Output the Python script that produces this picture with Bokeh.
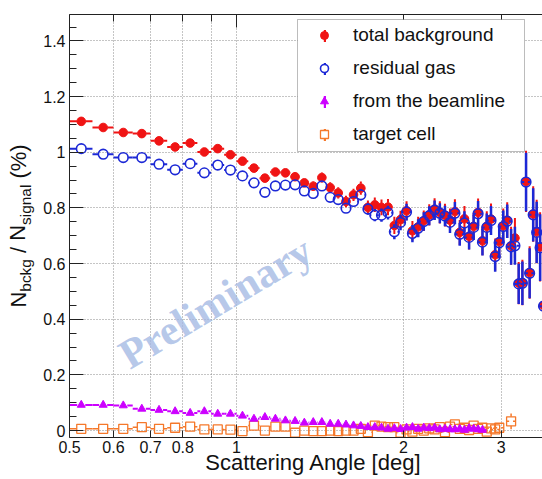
import numpy as np
from bokeh.plotting import figure
from bokeh.models import (Range1d, FixedTicker, SingleIntervalTicker, CustomJSTickFormatter,
                          LogAxis, LinearAxis, Label, BoxAnnotation, Legend, LegendItem)
from bokeh.embed import file_html
from bokeh.resources import INLINE

# ---------------- data ----------------
angle_bins = [0.525, 0.575, 0.625, 0.675, 0.725, 0.775, 0.825, 0.875, 0.925, 0.975,
              1.025, 1.075, 1.125, 1.175, 1.225, 1.275, 1.325, 1.375, 1.425, 1.475,
              1.525, 1.575, 1.625, 1.675, 1.725, 1.775, 1.825, 1.875, 1.925, 1.975,
              2.025, 2.075, 2.125, 2.175, 2.225, 2.275, 2.325, 2.375, 2.425, 2.475,
              2.525, 2.575, 2.625, 2.675, 2.725, 2.775, 2.825, 2.875, 2.925, 2.975,
              3.025, 3.075, 3.125, 3.175, 3.225, 3.275, 3.325, 3.375, 3.425, 3.475,
              3.525, 3.575]
bin_half_width = 0.025

total_background = [1.111, 1.089, 1.071, 1.067, 1.041, 1.019, 1.033, 1.001, 1.013, 0.991,
                    0.968, 0.943, 0.907, 0.929, 0.926, 0.912, 0.890, 0.878, 0.909, 0.873,
                    0.854, 0.823, 0.847, 0.871, 0.802, 0.811, 0.802, 0.803, 0.737, 0.758,
                    0.790, 0.718, 0.732, 0.754, 0.775, 0.796, 0.784, 0.774, 0.756, 0.787,
                    0.712, 0.761, 0.698, 0.734, 0.784, 0.682, 0.734, 0.760, 0.632, 0.679,
                    0.736, 0.756, 0.664, 0.692, 0.530, 0.532, 0.895, 0.568, 0.778, 0.715,
                    0.660, 0.450]
total_err = [0.010, 0.010, 0.010, 0.010, 0.011, 0.011, 0.011, 0.011, 0.012, 0.012,
             0.013, 0.013, 0.014, 0.014, 0.015, 0.015, 0.016, 0.017, 0.018, 0.019,
             0.020, 0.021, 0.022, 0.024, 0.025, 0.026, 0.028, 0.029, 0.031, 0.032,
             0.034, 0.035, 0.036, 0.037, 0.038, 0.039, 0.040, 0.041, 0.042, 0.044,
             0.045, 0.046, 0.047, 0.049, 0.050, 0.052, 0.054, 0.056, 0.058, 0.060,
             0.062, 0.064, 0.068, 0.072, 0.076, 0.082, 0.110, 0.094, 0.100, 0.114,
             0.124, 0.134]

residual_gas = [1.013, 0.993, 0.981, 0.981, 0.957, 0.937, 0.959, 0.926, 0.954, 0.936,
                0.915, 0.890, 0.856, 0.879, 0.882, 0.883, 0.861, 0.852, 0.879, 0.838,
                0.830, 0.799, 0.823, 0.847, 0.796, 0.774, 0.774, 0.783, 0.714, 0.748,
                0.785, 0.708, 0.727, 0.751, 0.772, 0.792, 0.781, 0.771, 0.748, 0.781,
                0.705, 0.746, 0.694, 0.730, 0.779, 0.677, 0.730, 0.755, 0.625, 0.675,
                0.733, 0.752, 0.660, 0.664, 0.527, 0.529, 0.893, 0.565, 0.775, 0.712,
                0.657, 0.447]
residual_err = [0.006, 0.006, 0.006, 0.006, 0.007, 0.007, 0.007, 0.007, 0.008, 0.008,
                0.009, 0.009, 0.010, 0.010, 0.011, 0.011, 0.012, 0.013, 0.014, 0.015,
                0.016, 0.017, 0.018, 0.020, 0.021, 0.022, 0.024, 0.025, 0.027, 0.028,
                0.030, 0.031, 0.032, 0.033, 0.034, 0.035, 0.036, 0.037, 0.038, 0.040,
                0.041, 0.042, 0.043, 0.045, 0.046, 0.048, 0.050, 0.052, 0.054, 0.056,
                0.058, 0.060, 0.064, 0.068, 0.072, 0.078, 0.105, 0.090, 0.096, 0.110,
                0.120, 0.130]

beamline_bins = [0.525, 0.575, 0.625, 0.675, 0.725, 0.775, 0.825, 0.875, 0.925, 0.975,
                 1.025, 1.075, 1.125, 1.175, 1.225, 1.275, 1.325, 1.375, 1.425, 1.475,
                 1.525, 1.575, 1.625, 1.675, 1.725, 1.775, 1.825, 1.875, 1.925, 1.975,
                 2.025, 2.075, 2.125, 2.175, 2.225, 2.275, 2.325, 2.375, 2.425, 2.475,
                 2.525, 2.575, 2.625, 2.675, 2.725, 2.775]
from_beamline = [0.092, 0.092, 0.090, 0.078, 0.074, 0.069, 0.063, 0.069, 0.060, 0.060,
                 0.053, 0.042, 0.048, 0.042, 0.036, 0.034, 0.028, 0.030, 0.030, 0.024,
                 0.024, 0.021, 0.018, 0.016, 0.012, 0.012, 0.010, 0.006, 0.008, 0.005,
                 0.010, 0.012, 0.006, 0.010, 0.008, 0.010, 0.004, 0.006, 0.004, 0.004,
                 0.006, 0.002, 0.008, 0.006, 0.004, 0.002]

target_bins = [0.525, 0.575, 0.625, 0.675, 0.725, 0.775, 0.825, 0.875, 0.925, 0.975,
               1.025, 1.075, 1.125, 1.175, 1.225, 1.275, 1.325, 1.375, 1.425, 1.475,
               1.525, 1.575, 1.625, 1.675, 1.725, 1.775, 1.825, 1.875, 1.925, 1.975,
               2.025, 2.075, 2.125, 2.175, 2.225, 2.275, 2.325, 2.375, 2.425, 2.475,
               2.525, 2.575, 2.625, 2.675, 2.725, 2.775, 2.825, 2.875, 2.925, 2.975,
               3.125]
target_cell = [0.006, 0.006, 0.006, 0.012, 0.006, 0.010, 0.014, 0.004, 0.004, 0.003,
               -0.002, 0.018, 0.000, 0.014, 0.014, -0.008, 0.000, -0.002, -0.002, 0.000,
               -0.002, 0.000, 0.000, 0.006, -0.006, 0.018, 0.014, 0.012, 0.012, -0.008,
               0.004, -0.004, 0.006, 0.000, 0.008, 0.004, 0.012, -0.006, 0.014, 0.022,
               0.006, 0.010, 0.002, 0.018, 0.006, 0.010, -0.004, 0.008, 0.004, 0.010,
               0.033]
target_err = [0.004, 0.004, 0.004, 0.004, 0.004, 0.004, 0.004, 0.004, 0.004, 0.004,
              0.004, 0.004, 0.004, 0.004, 0.004, 0.004, 0.004, 0.004, 0.004, 0.004,
              0.005, 0.005, 0.005, 0.005, 0.005, 0.005, 0.005, 0.005, 0.005, 0.005,
              0.006, 0.006, 0.006, 0.006, 0.006, 0.006, 0.006, 0.006, 0.006, 0.006,
              0.007, 0.007, 0.007, 0.007, 0.007, 0.007, 0.007, 0.007, 0.007, 0.007,
              0.028]

series_names = ["total background", "residual gas", "from the beamline", "target cell"]

x_tick_values = [0.5, 0.6, 0.7, 0.8, 0.9, 1.0, 2.0, 3.0]
x_tick_labels = ["0.5", "0.6", "0.7", "0.8", "", "1", "2", "3"]
x_grid_values = [0.6, 0.7, 0.8, 0.9, 1.0, 2.0, 3.0]
y_tick_values = [0.0, 0.2, 0.4, 0.6, 0.8, 1.0, 1.2, 1.4]
y_tick_labels = ["0", "0.2", "0.4", "0.6", "0.8", "1", "1.2", "1.4"]

x_title = "Scattering Angle [deg]"
# y title "N_bckg / N_signal (%)": main-size pieces and subscript pieces
y_title_main = ["N", "/", "N", "(%)"]
y_title_subs = ["bckg", "signal"]

# ---------------- layout / style ----------------
W, H = 542, 479
FL, FR, FT, FB = 69, 542, 14, 437
XMIN, XMAX = 0.5, 3.56
YMIN, YMAX = -0.025, 1.495
FONT = "Liberation Sans"
RED, BLUE, VIOLET, ORANGE = "#f01414", "#1c28d6", "#cc00ff", "#f5782a"

PPX = (FR - FL) / np.log(XMAX / XMIN)      # px per ln-unit
PPY = (FB - FT) / (YMAX - YMIN)            # px per y-unit


def dx(px):
    return float(XMIN * np.exp((px - FL) / PPX))


def dy(py):
    return float(YMIN + (FB - py) / PPY)


# pixel centres (along the vertical) of the y-title pieces
y_title_main_py = [299.0, 249.5, 232.4, 161.0]
y_title_subs_py = [274.9, 204.3]
x_title_px = 313

p = figure(width=W, height=H, x_axis_type="log",
           x_range=Range1d(XMIN, XMAX), y_range=Range1d(YMIN, YMAX),
           output_backend="svg", toolbar_location=None,
           min_border_left=FL, min_border_right=W - FR,
           min_border_top=FT, min_border_bottom=H - FB)
p.outline_line_color = None
p.background_fill_color = "white"
p.border_fill_color = "white"

fmt_code = """
for (let i = 0; i < vals.length; i++) {
  if (Math.abs(vals[i] - tick) < 1e-6) { return labs[i]; }
}
return "";
"""


def lookup_fmt(vals, labs):
    return CustomJSTickFormatter(args=dict(vals=list(vals), labs=list(labs)), code=fmt_code)


xt = FixedTicker(ticks=x_tick_values, minor_ticks=[1.0])


def style_axis(ax, tick_major, tick_minor):
    ax.axis_line_color = "#222222"
    ax.axis_line_width = 1
    ax.major_tick_line_color = "#222222"
    ax.minor_tick_line_color = "#222222"
    ax.major_tick_in = tick_major
    ax.major_tick_out = 0
    ax.minor_tick_in = tick_minor
    ax.minor_tick_out = 0
    ax.major_label_text_font = FONT
    ax.major_label_text_font_size = "16px"
    ax.major_label_text_color = "#111111"


def text_only_axis(ax, size, standoff):
    ax.axis_line_color = None
    ax.major_tick_line_color = None
    ax.minor_tick_line_color = None
    ax.major_tick_in = 0
    ax.major_tick_out = 0
    ax.minor_tick_in = 0
    ax.minor_tick_out = 0
    ax.major_label_text_font = FONT
    ax.major_label_text_font_size = size
    ax.major_label_text_color = "#111111"
    ax.major_label_standoff = standoff


xa = p.xaxis[0]
xa.ticker = xt
xa.formatter = lookup_fmt(x_tick_values, x_tick_labels)
style_axis(xa, 7, 13)
xa.major_label_standoff = 3

top = LogAxis(ticker=xt, formatter=CustomJSTickFormatter(code="return '';"))
style_axis(top, 7, 13)
top.major_label_standoff = 0
p.add_layout(top, "above")

ya = p.yaxis[0]
ya.ticker = SingleIntervalTicker(interval=0.2, num_minor_ticks=4)
ya.formatter = lookup_fmt(y_tick_values, y_tick_labels)
style_axis(ya, 14, 7)
ya.major_label_standoff = 4

# x title, placed as the single label of a text-only axis below the tick labels
xt_pos = [dx(x_title_px)]
xtitle_ax = LogAxis(ticker=FixedTicker(ticks=xt_pos, minor_ticks=[]),
                    formatter=lookup_fmt(xt_pos, [x_title]))
text_only_axis(xtitle_ax, "22px", -6)
p.add_layout(xtitle_ax, "below")

# y title: subscripts (nearer the axis) and main pieces, as rotated axis labels
subs_pos = [dy(v) for v in y_title_subs_py]
sub_ax = LinearAxis(ticker=FixedTicker(ticks=subs_pos, minor_ticks=[]),
                    formatter=lookup_fmt(subs_pos, y_title_subs),
                    major_label_orientation="parallel")
text_only_axis(sub_ax, "15.4px", 6)
p.add_layout(sub_ax, "left")
main_pos = [dy(v) for v in y_title_main_py]
main_ax = LinearAxis(ticker=FixedTicker(ticks=main_pos, minor_ticks=[]),
                     formatter=lookup_fmt(main_pos, y_title_main),
                     major_label_orientation="parallel")
text_only_axis(main_ax, "22px", -16)
p.add_layout(main_ax, "left")

p.xgrid.ticker = FixedTicker(ticks=x_grid_values)
p.ygrid.ticker = FixedTicker(ticks=y_tick_values)
for g in (p.xgrid, p.ygrid):
    g.grid_line_color = "#8a8a8a"
    g.grid_line_dash = "1 2"
    g.grid_line_width = 1


def error_bars(xs, ys, eys, r_px, color, hw_lw, v_lw):
    xs = np.asarray(xs, float)
    ys = np.asarray(ys, float)
    gx = np.exp(r_px / PPX)
    gy = r_px / PPY
    # horizontal bin-width bars, interrupted by the marker
    hx0 = np.concatenate([xs - bin_half_width, xs * gx])
    hx1 = np.concatenate([xs / gx, xs + bin_half_width])
    hy = np.concatenate([ys, ys])
    p.segment(x0=hx0, y0=hy, x1=hx1, y1=hy, line_color=color, line_width=hw_lw)
    if eys is not None:
        eys = np.asarray(eys, float)
        m = eys > gy
        vx = np.concatenate([xs[m], xs[m]])
        vy0 = np.concatenate([ys[m] - eys[m], ys[m] + gy])
        vy1 = np.concatenate([ys[m] - gy, ys[m] + eys[m]])
        p.segment(x0=vx, y0=vy0, x1=vx, y1=vy1, line_color=color, line_width=v_lw)


# total background (red, filled circles)
error_bars(angle_bins, total_background, total_err, 4.3, RED, 2, 2)
p.scatter(angle_bins, total_background, marker="circle", size=8.6,
          fill_color=RED, line_color=RED, line_width=1)
# residual gas (blue, open circles)
error_bars(angle_bins, residual_gas, residual_err, 4.8, BLUE, 2, 2.5)
p.scatter(angle_bins, residual_gas, marker="circle", size=9.6,
          fill_color=None, line_color=BLUE, line_width=1.6)
# target cell (orange, open squares)
error_bars(target_bins, target_cell, target_err, 4.5, ORANGE, 1.5, 1.5)
p.scatter(target_bins, target_cell, marker="square", size=9,
          fill_color=None, line_color=ORANGE, line_width=1.3)
# from the beamline (violet, filled triangles)
error_bars(beamline_bins, from_beamline, None, 4, VIOLET, 2, 2)
p.scatter(beamline_bins, from_beamline, marker="triangle", size=8,
          fill_color=VIOLET, line_color=VIOLET, line_width=1)

# watermark
p.add_layout(Label(x=dx(215), y=dy(302), text="Preliminary", angle=0.54,
                   text_align="center", text_baseline="middle",
                   text_font="Liberation Serif", text_font_style="bold",
                   text_font_size="42px", text_color="#a4b9e4", text_alpha=0.8))

# legend (ROOT style: vertical error bar with marker)
p.add_layout(BoxAnnotation(left=dx(297), right=dx(524), top=dy(19), bottom=dy(151),
                           fill_color="white", fill_alpha=1.0,
                           line_color="#222222", line_width=1))
colors = [RED, BLUE, VIOLET, ORANGE]
first_x = angle_bins[:1]
first_y = total_background[:1]
# zero-area proxies: invisible in the plot, used only for the legend glyphs
bar_rs = [p.quad(left=first_x, right=first_x, bottom=first_y, top=first_y,
                 fill_color=c, line_color=None) for c in colors]
mk_rs = [
    p.scatter(first_x, first_y, size=0, marker="circle", fill_color=RED, line_color=RED),
    p.scatter(first_x, first_y, size=0, marker="circle", fill_color="white",
              line_color=BLUE, line_width=1.6),
    p.scatter(first_x, first_y, size=0, marker="triangle", fill_color=VIOLET, line_color=VIOLET),
    p.scatter(first_x, first_y, size=0, marker="square", fill_color="white",
              line_color=ORANGE, line_width=1.3),
]
leg_bars = Legend(items=[LegendItem(label="", renderers=[r]) for r in bar_rs],
                  location=(253.5, 295.5), glyph_width=3, glyph_height=15, label_height=15,
                  label_standoff=0, spacing=18, padding=0, margin=0,
                  border_line_color=None, background_fill_alpha=0)
leg_marks = Legend(items=[LegendItem(label=n, renderers=[r]) for n, r in zip(series_names, mk_rs)],
                   location=(245, 292), glyph_width=20, glyph_height=22, label_height=22,
                   spacing=11, padding=0, margin=0, label_standoff=19,
                   label_text_font=FONT, label_text_font_size="19px", label_text_color="#111111",
                   border_line_color=None, background_fill_alpha=0)
p.add_layout(leg_bars)
p.add_layout(leg_marks)

open("out.html", "w").write(file_html(p, INLINE))
